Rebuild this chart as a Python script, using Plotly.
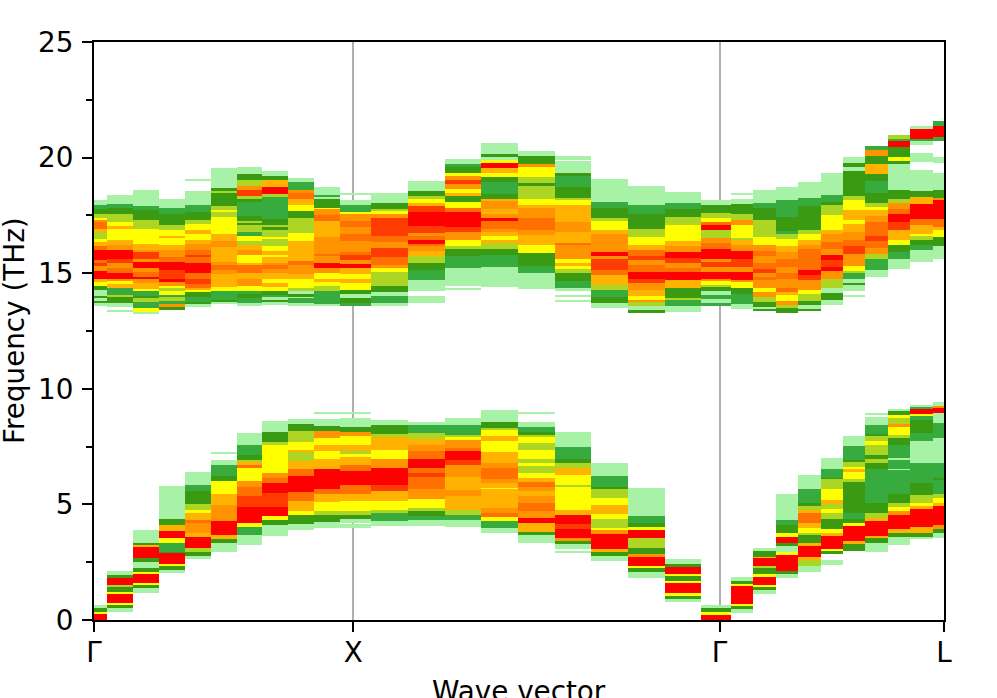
import plotly.graph_objects as go

NO, LG, MG, DG, YG, YE, AM, OR, DO, RO, RE = range(11)
level_colors = {LG: "#a8f2a8", MG: "#37ab3e", DG: "#3a9a12", YG: "#add624", YE: "#ffff00",
                AM: "#ffb300", OR: "#ff9400", DO: "#ff7000", RO: "#ff3c00", RE: "#ff0000"}

segment_lengths = [1.0, 1.414, 0.866]
steps_per_segment = 10
tick_labels = ["Γ", "X", "Γ", "L"]

# each k-point: (upper frequency of a band in THz, intensity level below it), top to bottom
k00 = [(18.17,LG),(17.97,MG),(17.79,DG),(17.57,YG),(17.40,YE),(17.31,OR),(17.21,DO),(16.93,AM),(16.78,YG),(16.49,YE),(16.35,AM),(16.16,DO),(15.99,RE),(15.59,DO),(15.42,RO),(15.30,OR),(15.10,RE),(14.73,AM),(14.63,YE),(14.44,DG),(14.27,LG),(14.03,DG),(13.91,LG),(13.81,DG),(13.69,LG),(13.58,NO),
       (0.66,LG),(0.50,DG),(0.33,YE),(0.26,RE),(0.0,NO)]
k01 = [(18.40,LG),(18.00,MG),(17.83,DG),(17.54,YG),(17.20,YE),(17.04,AM),(16.90,YE),(16.42,AM),(16.21,OR),(15.99,RE),(15.63,RO),(15.42,OR),(15.24,DO),(15.01,RE),(14.74,OR),(14.67,YE),(14.55,AM),(14.37,MG),(14.02,YG),(13.98,DG),(13.69,LG),(13.55,NO),(13.41,LG),(13.32,NO),
       (2.10,LG),(1.94,DG),(1.80,RE),(1.51,YG),(1.41,DG),(1.22,YE),(1.12,RE),(0.73,YE),(0.65,DG),(0.50,LG),(0.33,NO)]
k02 = [(18.58,LG),(17.89,MG),(17.72,DG),(17.29,YG),(16.90,YE),(16.28,AM),(15.99,OR),(15.92,RO),(15.63,OR),(15.49,RE),(15.23,OR),(15.06,DO),(14.84,RE),(14.74,OR),(14.58,AM),(14.32,YE),(14.22,MG),(14.02,DG),(13.94,YG),(13.76,MG),(13.48,YE),(13.33,LG),(13.22,NO),
       (3.88,LG),(3.35,DG),(3.23,AM),(3.16,RE),(2.67,DG),(2.53,LG),(2.24,DG),(2.08,YE),(1.98,RE),(1.62,YE),(1.52,DG),(1.38,LG),(1.16,NO)]
k03 = [(18.19,LG),(17.83,MG),(17.54,DG),(17.07,YG),(16.85,YE),(16.59,AM),(16.54,YE),(16.21,AM),(16.02,OR),(15.70,DO),(15.49,RE),(15.13,RO),(14.77,RE),(14.63,OR),(14.45,YE),(14.38,YG),(14.24,YE),(14.05,MG),(13.98,YG),(13.81,MG),(13.66,OR),(13.55,DG),(13.43,NO),
       (5.78,LG),(4.35,DG),(4.10,AM),(3.85,RE),(3.53,YE),(3.35,MG),(2.96,DG),(2.89,RE),(2.41,YE),(2.34,DG),(2.17,LG),(2.03,NO)]
k04 = [(19.08,LG),(19.01,NO),(18.55,LG),(17.93,MG),(17.64,DG),(17.29,YG),(17.11,YE),(16.88,AM),(16.68,YE),(16.45,AM),(16.25,OR),(15.99,DO),(15.78,RO),(15.68,DO),(15.45,RE),(14.99,DO),(14.77,RO),(14.55,DO),(14.38,AM),(14.27,YE),(14.20,DG),(13.95,MG),(13.76,DG),(13.66,LG),(13.58,NO),
       (6.39,LG),(5.86,MG),(5.57,DG),(5.00,YG),(4.74,YE),(4.61,AM),(4.33,DO),(4.18,OR),(3.78,AM),(3.61,RE),(3.10,YG),(2.94,DG),(2.77,LG),(2.66,NO)]
k05 = [(19.54,LG),(18.69,DG),(18.55,YG),(18.49,DG),(17.89,YG),(17.72,YE),(17.63,YG),(17.43,YE),(16.68,AM),(16.39,OR),(16.14,AM),(15.49,OR),(15.35,DO),(15.13,OR),(14.96,AM),(14.77,AM),(14.41,YE),(14.22,MG),(13.81,DG),(13.76,LG),(13.66,NO),
       (7.26,LG),(7.16,NO),(6.94,LG),(6.70,MG),(6.25,DG),(6.01,YE),(5.47,AM),(4.96,OR),(4.28,RE),(3.66,AM),(3.52,DG),(3.35,LG),(2.96,NO)]
k06 = [(19.58,LG),(19.30,DG),(19.01,YG),(18.79,OR),(18.61,RO),(18.36,YG),(18.22,DG),(18.07,MG),(17.46,DG),(17.26,YG),(17.20,DG),(17.07,YG),(16.78,MG),(16.59,YE),(16.39,YG),(16.21,AM),(15.99,OR),(15.78,YE),(15.46,AM),(15.37,DO),(14.99,AM),(14.74,OR),(14.44,YE),(14.24,MG),(14.12,LG),(14.08,DG),(13.94,MG),(13.69,LG),(13.62,NO),
       (8.07,LG),(7.56,MG),(7.15,DG),(6.94,YG),(6.82,AM),(6.70,DO),(6.59,YE),(6.01,OR),(5.76,DO),(5.36,RO),(4.90,RE),(4.18,YE),(4.04,MG),(3.66,LG),(3.23,NO)]
k07 = [(19.44,LG),(19.22,DG),(19.05,AM),(18.75,RE),(18.43,YG),(18.29,MG),(17.36,DG),(17.10,YG),(17.03,DG),(16.85,YG),(16.57,YE),(16.49,YG),(16.39,YG),(16.16,YE),(15.96,AM),(15.78,YE),(15.68,AM),(15.45,OR),(15.35,DO),(15.20,OR),(14.99,AM),(14.77,YE),(14.58,AM),(14.41,YE),(14.24,DG),(14.05,MG),(13.98,LG),(13.86,DG),(13.76,LG),(13.62,NO),
       (8.62,LG),(8.12,DG),(7.69,YG),(7.56,YE),(6.34,OR),(6.15,DO),(5.93,RE),(5.50,RO),(5.26,RO),(4.90,RE),(4.50,YE),(4.33,DG),(4.10,LG),(3.62,NO)]
k08 = [(19.11,LG),(18.94,MG),(18.58,OR),(18.49,DO),(18.22,AM),(17.93,YE),(17.67,DG),(17.39,YG),(16.74,YE),(16.38,AM),(15.53,DO),(15.35,OR),(14.96,AM),(14.74,YE),(14.38,YG),(14.24,LG),(14.12,DG),(13.98,LG),(13.91,MG),(13.69,LG),(13.62,NO),
       (8.71,LG),(8.49,DG),(8.19,YG),(7.69,YE),(7.37,AM),(7.26,YG),(6.87,AM),(6.51,DO),(6.25,RE),(5.53,DO),(5.14,AM),(4.71,YE),(4.54,DG),(4.14,LG),(3.89,NO)]
k09 = [(18.72,LG),(18.39,MG),(18.29,LG),(18.22,DG),(17.83,YE),(17.77,OR),(17.50,DO),(17.26,AM),(16.97,AM),(16.57,OR),(15.85,DO),(15.73,OR),(15.42,RE),(15.23,OR),(14.99,YE),(14.77,AM),(14.63,YE),(14.44,YG),(14.22,MG),(13.65,LG),(13.59,NO),
       (8.99,LG),(8.89,NO),(8.71,LG),(8.41,DG),(8.16,OR),(7.87,YE),(7.59,AM),(7.30,YE),(6.97,AM),(6.51,RE),(5.68,DO),(5.43,AM),(5.10,YE),(4.71,YG),(4.53,DG),(4.24,LG),(3.99,NO)]
k10 = [(18.46,LG),(18.39,NO),(18.18,LG),(17.97,MG),(17.64,YE),(17.57,OR),(17.26,DO),(17.00,OR),(16.71,DO),(16.39,OR),(15.92,DO),(15.78,RO),(15.56,OR),(15.39,RE),(15.23,AM),(14.96,YE),(14.77,AM),(14.58,YE),(14.27,DG),(14.12,LG),(13.91,DG),(13.69,MG),(13.61,NO),
       (8.99,LG),(8.94,NO),(8.74,LG),(8.66,LG),(8.35,DG),(8.12,OR),(7.97,YE),(7.59,AM),(7.30,YG),(7.20,YE),(7.05,AM),(6.72,DO),(6.44,RE),(5.83,DO),(5.47,AM),(5.14,YE),(4.71,YG),(4.54,DG),(4.38,LG),(4.18,NO),(4.14,LG),(3.99,NO)]
k11 = [(18.46,LG),(18.03,DG),(17.79,YG),(17.69,YE),(17.57,OR),(17.39,RO),(16.59,DO),(16.35,OR),(16.11,RO),(15.70,DO),(15.35,OR),(15.24,YE),(15.06,YG),(14.44,DG),(14.18,LG),(14.01,MG),(13.69,LG),(13.59,NO),
       (8.66,LG),(8.42,DG),(8.05,YG),(7.92,AM),(7.37,YE),(6.97,OR),(6.58,RE),(5.82,RO),(5.57,AM),(5.14,YE),(4.76,YG),(4.61,MG),(4.28,LG),(4.07,NO)]
k12 = [(18.98,LG),(18.55,DG),(18.33,YG),(18.22,YE),(18.03,AM),(17.89,RO),(17.64,RE),(17.04,RO),(16.74,OR),(16.59,DO),(16.42,RE),(16.28,DO),(16.16,OR),(15.96,AM),(15.73,YG),(15.45,DG),(15.16,MG),(14.70,LG),(14.21,NO),(14.01,LG),(13.69,NO),
       (8.56,LG),(8.45,MG),(8.09,YG),(7.83,AM),(7.59,OR),(7.30,DO),(6.97,RE),(6.58,DO),(6.36,RO),(6.18,DO),(5.68,OR),(5.22,YE),(4.83,YG),(4.71,DG),(4.50,MG),(4.33,LG),(4.07,NO)]
k13 = [(19.94,LG),(19.73,MG),(19.58,DG),(19.33,YE),(19.20,OR),(19.01,RO),(18.84,OR),(18.65,YE),(18.48,AM),(18.36,DG),(18.07,YE),(17.83,DO),(17.64,RE),(17.00,RO),(16.78,OR),(16.42,YE),(16.18,YG),(16.06,DG),(15.73,MG),(15.23,LG),(14.44,NO),(14.38,LG),(14.31,NO),
       (8.74,LG),(8.45,MG),(8.02,YG),(7.90,YE),(7.77,OR),(7.44,DO),(7.30,RE),(6.94,RO),(6.72,OR),(6.19,AM),(5.62,OR),(5.36,AM),(4.76,YG),(4.53,MG),(4.33,LG),(4.02,NO)]
k14 = [(20.62,LG),(20.16,DG),(20.01,LG),(19.91,YE),(19.77,RE),(19.55,AM),(19.33,YE),(19.15,DG),(18.94,MG),(18.41,DG),(18.19,AM),(18.12,OR),(17.79,AM),(17.57,OR),(17.40,RE),(17.26,DO),(16.93,OR),(16.78,AM),(16.62,YE),(16.45,AM),(16.31,YG),(16.06,DG),(15.78,MG),(15.26,LG),(14.41,NO),
       (9.10,LG),(8.55,DG),(8.30,YG),(8.20,YE),(7.97,AM),(7.73,YE),(7.26,AM),(6.77,OR),(6.58,DO),(6.08,OR),(5.93,AM),(5.72,YE),(5.65,AM),(4.86,OR),(4.64,DO),(4.47,YE),(4.28,MG),(3.97,LG),(3.75,NO)]
k15 = [(20.27,LG),(20.09,DG),(19.73,OR),(19.61,YE),(19.15,YG),(18.89,DG),(18.76,YG),(18.22,YE),(17.97,AM),(17.80,OR),(17.40,DO),(16.88,OR),(16.64,AM),(16.21,YE),(15.88,DG),(15.30,MG),(15.03,LG),(14.32,NO),
       (8.99,LG),(8.94,NO),(8.55,LG),(8.33,MG),(8.13,DG),(8.02,YG),(7.90,YE),(7.66,YG),(7.37,YE),(6.97,YG),(6.77,YE),(6.70,YG),(6.34,YE),(6.15,AM),(5.96,DO),(5.76,OR),(5.57,AM),(5.36,OR),(5.04,DO),(4.71,OR),(4.43,RE),(4.18,AM),(4.10,AM),(3.81,DG),(3.66,LG),(3.35,NO)]
k16 = [(20.06,LG),(19.90,NO),(19.84,LG),(19.33,DG),(19.20,MG),(18.72,DG),(18.25,YG),(18.18,YE),(17.93,AM),(17.21,OR),(16.78,AM),(16.31,DO),(16.21,OR),(15.63,YE),(15.42,AM),(15.30,YE),(15.20,YG),(14.99,DG),(14.67,MG),(14.37,LG),(14.22,NO),(14.02,LG),(13.98,NO),(13.84,LG),(13.75,NO),
       (8.12,LG),(7.47,MG),(6.97,DG),(6.80,YG),(6.58,AM),(6.29,YE),(5.86,YG),(5.76,YE),(4.76,AM),(4.53,RE),(4.14,RO),(3.95,RE),(3.56,OR),(3.42,DG),(3.28,LG),(3.09,NO),(2.99,LG),(2.92,NO)]
k17 = [(19.07,LG),(18.07,MG),(17.83,DG),(17.40,YG),(17.26,YE),(16.88,AM),(16.71,OR),(16.49,OR),(15.92,RE),(15.76,OR),(15.63,RO),(15.13,DO),(14.94,AM),(14.48,YG),(14.27,MG),(13.95,DG),(13.69,LG),(13.50,NO),
       (6.77,LG),(6.22,MG),(5.76,DG),(5.68,YG),(5.57,YG),(5.26,YE),(4.96,AM),(4.57,YE),(4.35,YG),(4.00,YE),(3.89,OR),(3.71,RE),(3.06,AM),(2.94,DG),(2.77,LG),(2.57,NO)]
k18 = [(18.79,LG),(17.97,MG),(17.54,DG),(16.93,YG),(16.57,YE),(16.21,AM),(15.99,DO),(15.73,RO),(15.59,OR),(15.35,DO),(15.06,RE),(14.77,RO),(14.58,OR),(14.27,AM),(14.01,YE),(13.84,OR),(13.75,YG),(13.58,LG),(13.41,DG),(13.26,NO),
       (5.73,LG),(4.50,MG),(4.18,DG),(4.04,YE),(3.88,RE),(3.56,YG),(3.42,YG),(3.13,DG),(2.84,OR),(2.74,RE),(2.34,YE),(2.23,DG),(2.08,LG),(1.80,NO)]
k19 = [(18.51,LG),(18.05,MG),(17.76,DG),(17.43,YG),(17.07,YE),(16.38,AM),(16.16,OR),(15.92,RE),(15.67,RO),(15.46,OR),(15.24,DO),(15.06,RE),(14.70,AM),(14.34,DG),(13.94,YG),(13.84,MG),(13.58,LG),(13.33,NO),
       (2.63,LG),(2.41,DG),(2.31,RE),(2.01,YE),(1.91,DG),(1.70,YE),(1.58,RE),(1.15,YE),(1.05,DG),(0.93,LG),(0.76,NO)]
k20 = [(18.18,LG),(17.97,DG),(17.60,YG),(17.40,YE),(17.21,DO),(17.07,RE),(16.88,YG),(16.52,OR),(16.31,DO),(16.06,RE),(15.60,OR),(15.49,RO),(15.27,OR),(15.06,RE),(14.77,OR),(14.67,YE),(14.48,YG),(14.41,DG),(14.24,LG),(14.05,MG),(13.87,LG),(13.72,MG),(13.58,NO),
       (0.66,LG),(0.52,DG),(0.33,YE),(0.23,RE),(0.0,NO)]
k21 = [(18.46,LG),(18.40,NO),(18.22,LG),(18.00,DG),(17.54,YG),(17.28,OR),(17.07,YE),(16.54,YG),(16.42,AM),(16.21,OR),(15.96,RE),(15.60,RO),(15.27,OR),(15.06,RE),(14.70,OR),(14.60,YE),(14.38,DG),(14.10,MG),(13.66,LG),(13.45,NO),
       (1.84,LG),(1.67,DG),(1.55,YE),(1.48,RE),(1.12,RE),(0.69,YE),(0.62,DG),(0.47,LG),(0.30,NO)]
k22 = [(18.58,LG),(18.03,MG),(17.82,DG),(17.31,YG),(16.57,YE),(16.21,OR),(15.96,DO),(15.75,OR),(15.42,DO),(15.20,RO),(15.02,OR),(14.84,DO),(14.70,OR),(14.38,YE),(14.20,OR),(13.95,YG),(13.77,DG),(13.55,LG),(13.45,DG),(13.36,NO),
       (3.13,LG),(2.99,DG),(2.74,AM),(2.67,RE),(2.34,YG),(2.27,DG),(1.98,YE),(1.88,RE),(1.51,YE),(1.41,DG),(1.29,LG),(1.12,NO)]
k23 = [(18.72,LG),(18.18,MG),(17.43,DG),(16.83,MG),(16.71,YG),(16.49,YE),(16.16,AM),(15.92,OR),(15.63,DO),(15.27,OR),(14.99,DO),(14.77,OR),(14.38,DO),(14.20,AM),(14.05,YE),(13.81,OR),(13.62,YG),(13.48,DG),(13.30,NO),
       (5.43,LG),(4.33,MG),(4.10,DG),(3.78,YE),(3.59,RE),(3.35,DG),(3.18,LG),(2.95,YE),(2.80,RE),(2.13,DG),(1.98,LG),(1.80,NO)]
k24 = [(18.94,LG),(18.26,MG),(17.89,DG),(16.88,YG),(16.68,YE),(16.42,AM),(16.24,OR),(16.06,DO),(15.13,RE),(14.91,RO),(14.70,OR),(14.27,YE),(14.12,YG),(13.81,DG),(13.62,LG),(13.45,DG),(13.36,NO),
       (6.29,LG),(5.65,MG),(5.07,DG),(4.93,YG),(4.76,AM),(4.61,DO),(4.21,AM),(3.99,YE),(3.78,YG),(3.66,DG),(3.32,AM),(3.18,RE),(2.73,AM),(2.60,YG),(2.34,LG),(2.06,NO)]
k25 = [(19.33,LG),(18.39,MG),(18.07,DG),(17.93,YG),(17.50,YE),(16.88,AM),(16.71,OR),(16.35,DO),(16.06,OR),(15.78,RE),(15.59,RO),(15.27,RE),(15.09,OR),(14.77,YG),(14.34,LG),(14.15,DG),(13.84,LG),(13.62,NO),
       (7.01,LG),(6.55,MG),(6.15,DG),(6.08,YG),(5.65,YE),(5.17,AM),(5.00,YG),(4.81,YE),(4.64,YG),(4.38,DG),(3.92,YE),(3.75,AM),(3.64,RE),(3.09,YE),(2.99,DG),(2.85,NO),(2.60,LG),(2.37,NO)]
k26 = [(20.04,LG),(19.76,DG),(19.61,LG),(19.44,DG),(18.36,YG),(18.18,YE),(17.74,AM),(17.31,YE),(17.14,AM),(16.78,OR),(16.45,DO),(16.16,RO),(15.82,OR),(15.32,YE),(15.10,YG),(14.99,MG),(14.73,LG),(14.58,DG),(14.48,LG),(14.22,NO),(14.05,LG),(14.01,NO),
       (7.97,LG),(7.51,MG),(6.94,DG),(6.83,YG),(6.62,YE),(6.51,AM),(6.39,YE),(6.11,YG),(5.96,DG),(4.64,MG),(4.38,DG),(4.18,YE),(4.07,RE),(3.42,AM),(3.28,DG),(2.99,NO)]
k27 = [(20.52,MG),(20.33,OR),(20.09,DG),(19.73,AM),(19.30,DG),(18.98,MG),(18.46,DG),(18.03,YG),(17.86,YE),(17.72,AM),(17.46,OR),(17.21,DO),(16.60,RO),(16.39,DO),(16.11,OR),(15.82,YG),(15.60,MG),(15.13,LG),(14.84,NO),
       (8.95,LG),(8.88,NO),(8.76,LG),(8.45,MG),(8.05,DG),(7.95,YG),(7.73,YE),(7.56,YG),(7.13,DG),(6.97,YG),(6.80,DG),(6.51,MG),(5.36,MG),(5.04,DG),(4.61,YG),(4.42,AM),(4.28,RE),(3.64,AM),(3.53,DG),(3.32,LG),(2.92,NO)]
k28 = [(20.99,YG),(20.80,MG),(20.70,RE),(20.44,DG),(20.01,YE),(19.84,DG),(19.73,LG),(18.61,DG),(18.22,YG),(18.03,OR),(17.79,DO),(17.54,RE),(17.21,RO),(16.85,AM),(16.45,YE),(16.21,DG),(15.92,MG),(15.60,LG),(15.17,NO),
       (9.12,LG),(9.02,DG),(8.88,YE),(8.74,YG),(8.48,OR),(8.35,YE),(8.02,YG),(7.87,DG),(7.59,MG),(7.01,LG),(6.94,MG),(6.51,LG),(6.47,MG),(5.43,DG),(5.07,YG),(4.89,YE),(4.71,OR),(4.53,RE),(3.95,AM),(3.75,DG),(3.59,LG),(3.23,NO)]
k29 = [(21.38,LG),(21.24,RE),(20.80,MG),(20.70,LG),(20.55,NO),(20.19,LG),(19.80,NO),(19.47,LG),(18.55,DG),(18.29,AM),(18.00,RE),(17.33,DO),(17.07,AM),(16.71,YE),(16.61,YG),(16.42,DG),(16.23,MG),(15.99,LG),(15.49,NO),
       (9.31,LG),(9.21,MG),(9.12,RE),(8.92,YE),(8.84,MG),(8.66,DG),(8.09,MG),(7.73,LG),(7.01,LG),(6.77,MG),(5.91,DG),(5.39,YG),(5.07,YE),(4.93,AM),(4.81,RE),(4.04,AM),(3.78,DG),(3.61,LG),(3.49,NO)]
k30 = [(21.57,MG),(21.38,RE),(20.90,MG),(20.73,NO),(20.01,LG),(19.77,NO),(19.33,LG),(18.61,DG),(18.26,OR),(18.15,RE),(17.33,DO),(17.00,AM),(16.85,YE),(16.56,DG),(16.16,LG),(15.60,NO),
       (9.41,LG),(9.27,OR),(9.17,RE),(8.95,LG),(8.69,LG),(8.52,MG),(8.26,MG),(7.87,LG),(6.87,LG),(6.77,MG),(6.15,DG),(6.05,MG),(5.43,YG),(5.26,YE),(5.07,AM),(4.93,RE),(4.10,OR),(3.95,DG),(3.75,LG),(3.53,NO)]

kpoints = [k00,k01,k02,k03,k04,k05,k06,k07,k08,k09,k10,k11,k12,k13,k14,k15,k16,k17,k18,k19,k20,
           k21,k22,k23,k24,k25,k26,k27,k28,k29,k30]

# k-path distance of each point
dist = [0.0]
for seg in segment_lengths:
    for _ in range(steps_per_segment):
        dist.append(dist[-1] + seg / steps_per_segment)
tickvals = [dist[i * steps_per_segment] for i in range(len(segment_lengths) + 1)]

# column edges half way between neighbouring k-points
edges = [dist[0]] + [(a + b) / 2 for a, b in zip(dist, dist[1:])] + [dist[-1]]

fig = go.Figure()
for level, color in level_colors.items():
    xs, widths, bases, heights = [], [], [], []
    for i, column in enumerate(kpoints):
        for (top, lev), (bottom, _) in zip(column, column[1:]):
            if lev == level:
                xs.append((edges[i] + edges[i + 1]) / 2)
                widths.append(edges[i + 1] - edges[i])
                bases.append(bottom)
                heights.append(top - bottom)
    fig.add_trace(go.Bar(x=xs, y=heights, base=bases, width=widths, marker=dict(color=color, line=dict(width=0)),
                         hoverinfo="skip", showlegend=False))

font = dict(family="DejaVu Sans", size=27.8, color="black")
axis_style = dict(showline=True, mirror=True, linecolor="black", linewidth=2, zeroline=False,
                  ticks="outside", ticklen=10, tickwidth=2, tickcolor="black", automargin=False)
fig.update_layout(
    width=997, height=698, margin=dict(l=94, r=53, t=42, b=78), plot_bgcolor="white", paper_bgcolor="white",
    barmode="overlay", bargap=0, font=font, showlegend=False,
    xaxis=dict(range=[dist[0], dist[-1]], tickmode="array", tickvals=tickvals, ticktext=tick_labels,
               showgrid=True, gridcolor="#b0b0b0", gridwidth=2, ticklabelstandoff=-3, **axis_style),
    yaxis=dict(range=[0, 25], dtick=5, tick0=0, showgrid=False, ticklabelstandoff=3,
               minor=dict(dtick=2.5, ticks="outside", ticklen=6, tickwidth=2, tickcolor="black", showgrid=False),
               **axis_style),
    annotations=[
        dict(text="Wave vector", xref="paper", yref="paper", x=0.5, y=0, xanchor="center", yanchor="top",
             yshift=-53, showarrow=False, font=font),
        dict(text="Frequency (THz)", xref="paper", yref="paper", x=0, y=0.5, xanchor="center", yanchor="middle",
             xshift=-80, textangle=-90, showarrow=False, font=font),
    ],
)
fig.write_html("out.html", config=dict(displayModeBar=False), post_script="document.body.style.margin='0';")
